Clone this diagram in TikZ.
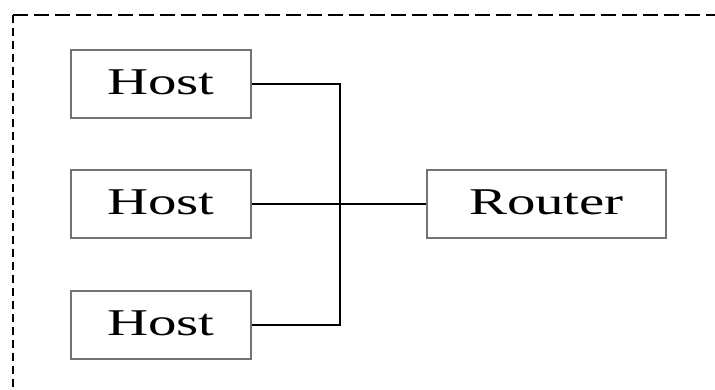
\documentclass[tikz,border=0pt]{standalone}
\usepackage{fontspec}
\setmainfont{Liberation Serif}
\usepackage{graphicx}
\newcommand{\widetext}[1]{\raisebox{3pt}{\scalebox{1.58}[1.05]{#1}}}
\begin{document}
\begin{tikzpicture}[x=1pt,y=-1pt,
  box/.style={draw=black!55,line width=1.7pt,fill=white,inner sep=0pt,
    minimum height=68pt,font=\fontsize{36}{40}\selectfont},
  link/.style={draw=black,line width=1.4pt},
  frame/.style={draw=black,line width=2.5pt}]
  \useasboundingbox (0,0) rectangle (715,390);
  % dashed enclosure (continues past the right and bottom edges)
  \draw[frame,dash pattern=on 15pt off 6pt] (13,15) -- (730,15);
  \draw[frame,dash pattern=on 8pt off 5pt] (13,15) -- (13,400);
  % hosts and router
  \node[box,minimum width=180pt] (h1) at (161,84) {\widetext{Host}\hspace{6pt}};
  \node[box,minimum width=180pt] (h2) at (161,204) {\widetext{Host}\hspace{6pt}};
  \node[box,minimum width=180pt] (h3) at (161,325) {\widetext{Host}\hspace{6pt}};
  \node[box,minimum width=239pt] (r) at (546.5,204) {\widetext{Router}\hspace{21pt}};
  % bus joining the hosts to the router
  \coordinate (j) at (340,204);
  \draw[link] (h1.east) -| (j) |- (h3.east);
  \draw[link] (h2.east) -- (r.west);
\end{tikzpicture}
\end{document}
